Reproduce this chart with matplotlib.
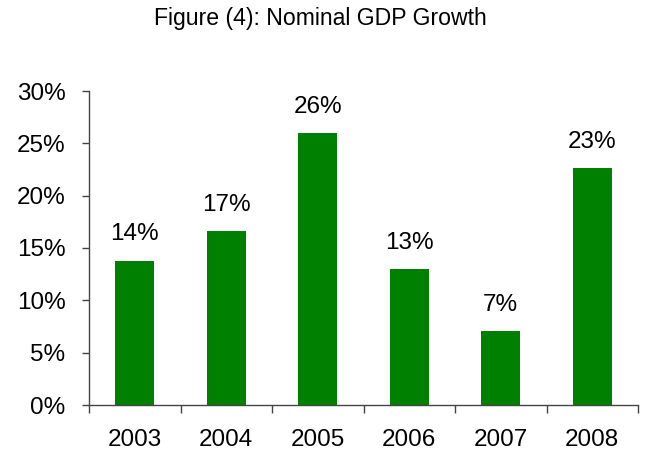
import matplotlib
matplotlib.use("Agg")
import matplotlib.pyplot as plt
from matplotlib.ticker import FixedLocator, PercentFormatter

plt.rcParams['font.family'] = ['Liberation Sans', 'DejaVu Sans']

years = ["2003", "2004", "2005", "2006", "2007", "2008"]
growth = [13.8, 16.6, 26.0, 13.0, 7.1, 22.6]  # percent
title = "Figure (4): Nominal GDP Growth"

fig = plt.figure(figsize=(6.5, 4.53), dpi=100)
ax = fig.add_axes([89 / 650, 1 - 405 / 453, 549 / 650, (405 - 91) / 453])

x = list(range(len(years)))
ax.bar(x, growth, width=0.43, color="#008000", zorder=2)

for xi, v in zip(x, growth):
    ax.annotate(f"{v:.0f}%", (xi, v), xytext=(0, 14.5), textcoords="offset points",
                ha="center", va="baseline", fontsize=17.5, color="black")

ax.set_xlim(-0.5, len(years) - 0.5)
ax.set_ylim(0, 30)
ax.set_yticks(range(0, 31, 5))
ax.yaxis.set_major_formatter(PercentFormatter(decimals=0))

# category labels sit between tick marks at the category boundaries
ax.set_xticks(x)
ax.set_xticklabels(years, fontsize=17.5)
ax.tick_params(axis="x", which="major", length=0, pad=17)
ax.xaxis.set_minor_locator(FixedLocator([i - 0.5 for i in range(len(years) + 1)]))
ax.tick_params(axis="x", which="minor", length=6, width=1, color="#444444", direction="out")
ax.tick_params(axis="y", labelsize=17.5, length=5, width=1, color="#444444", pad=12)

for s in ("top", "right"):
    ax.spines[s].set_visible(False)
for s in ("left", "bottom"):
    ax.spines[s].set_color("#444444")
    ax.spines[s].set_linewidth(1)

fig.text(320 / 650, 1 - 19 / 453, title, ha="center", va="center", fontsize=16.6)

fig.savefig("out.png", dpi=100)
